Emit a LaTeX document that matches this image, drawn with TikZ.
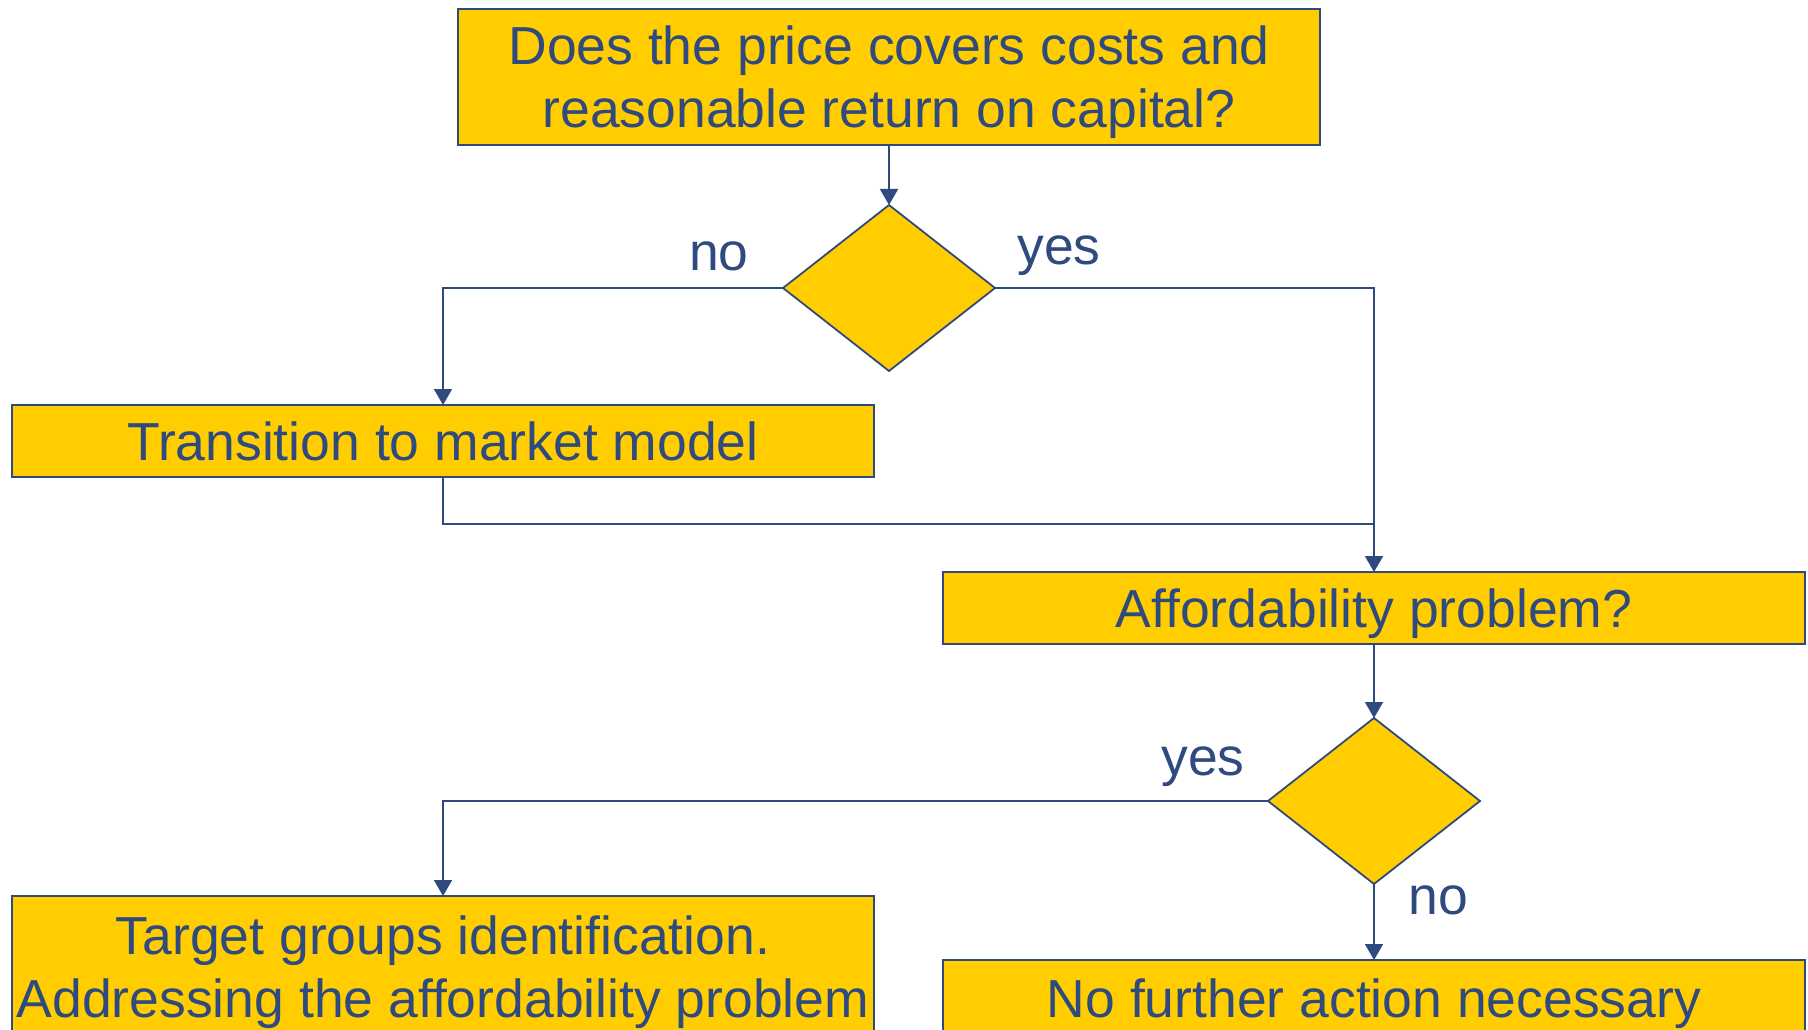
\documentclass[tikz,border=0pt]{standalone}
\usepackage{fontspec}
\setmainfont{Liberation Sans}
\usetikzlibrary{shapes.geometric,arrows.meta}
\definecolor{fyel}{HTML}{FFCD00}
\definecolor{fblue}{HTML}{2E4A7E}
\tikzset{
  fbox/.style={draw=fblue, fill=fyel, line width=1.8pt, text=fblue, font=\fontsize{53.5}{63}\selectfont, align=center, inner sep=0pt, outer sep=0pt, anchor=north, minimum width=862pt, text height=38.4pt, text depth=0pt},
  twoline/.style={text height=101.4pt},
  fdia/.style={draw=fblue, fill=fyel, line width=1.8pt, diamond, minimum width=212pt, minimum height=166pt, inner sep=0pt, outer sep=0pt},
  flab/.style={text=fblue, font=\fontsize{53.5}{63}\selectfont, inner sep=0pt},
  fline/.style={draw=fblue, line width=1.8pt},
  farr/.style={fline, -{Triangle[width=18pt,length=16pt]}}
}
\begin{document}
\begin{tikzpicture}[x=1pt,y=-1pt]
\clip (0,0) rectangle (1808,1030);
\fill[white] (0,0) rectangle (1808,1030);
\node[fbox, twoline, minimum height=136pt] (top) at (889,9) {Does the price covers costs and\\reasonable return on capital?};
\node[fdia] (d1) at (889,288) {};
\node[fbox, minimum height=72pt] (trans) at (443,405) {Transition to market model};
\node[fbox, minimum height=72pt] (aff) at (1374,572) {Affordability problem?};
\node[fdia] (d2) at (1374,801) {};
\node[fbox, twoline, minimum height=141pt] (tgt) at (443,896) {Target groups identification.\\Addressing the affordability problem};
\node[fbox, minimum height=76pt] (nof) at (1374,960) {No further action necessary};
\node[flab] (no1) at (719,256) {no};
\node[flab] (yes1) at (1059,256) {yes};
\node[flab] (yes2) at (1203,767) {yes};
\node[flab] (no2) at (1438,900) {no};
\coordinate (j) at (1374,524);
\draw[farr] (top.south) -- (d1.north);
\draw[farr] (d1.west) -| (trans.north);
\draw[farr] (d1.east) -| (j) -- (aff.north);
\draw[fline] (trans.south) |- (j);
\draw[farr] (aff.south) -- (d2.north);
\draw[farr] (d2.west) -| (tgt.north);
\draw[farr] (d2.south) -- (nof.north);
\end{tikzpicture}
\end{document}
